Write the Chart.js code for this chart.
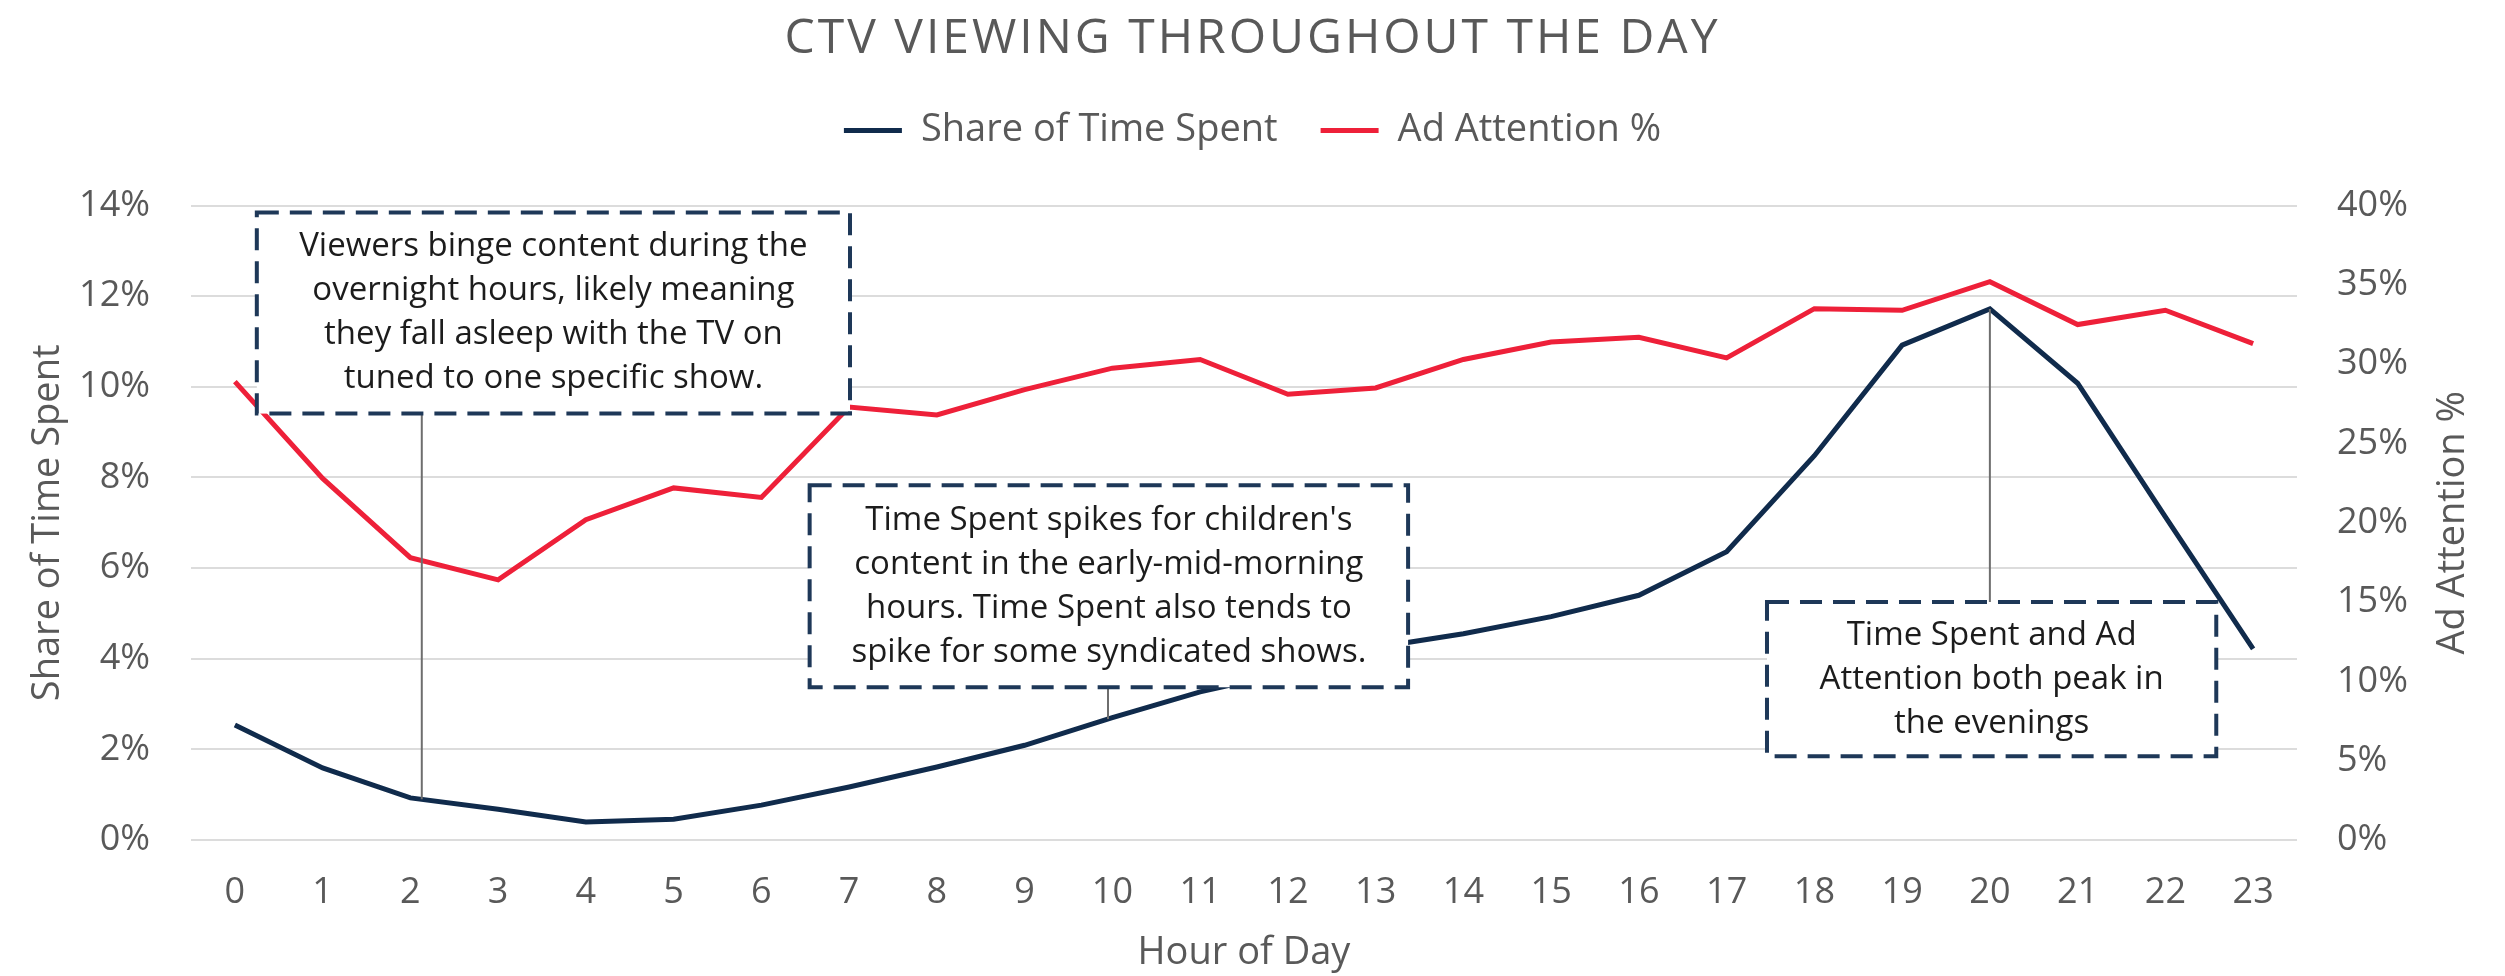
<!DOCTYPE html>
<html>
<head>
<meta charset="utf-8">
<title>CTV Viewing Throughout the Day</title>
<script src="https://cdn.jsdelivr.net/npm/chart.js@4.4.1/dist/chart.umd.min.js"></script>
<style>
  html, body { margin: 0; padding: 0; background: #fff; }
  canvas { display: block; }
</style>
</head>
<body>
<canvas id="ctvChart" width="2505" height="976"></canvas>
<script>
// data
const hours = ["0", "1", "2", "3", "4", "5", "6", "7", "8", "9", "10", "11",
               "12", "13", "14", "15", "16", "17", "18", "19", "20", "21", "22", "23"];

const shareOfTimeSpent = [2.54, 1.59, 0.93, 0.68, 0.40, 0.46, 0.77, 1.17, 1.61, 2.09, 2.70, 3.27,
                          3.70, 4.25, 4.55, 4.93, 5.40, 6.36, 8.48, 10.92, 11.72, 10.08, 7.13, 4.22];

const adAttention = [28.9, 22.8, 17.8, 16.4, 20.2, 22.2, 21.6, 27.3, 26.8, 28.4, 29.75, 30.3,
                     28.1, 28.5, 30.3, 31.4, 31.7, 30.4, 33.5, 33.4, 35.2, 32.5, 33.4, 31.3];

const FONT = "'Open Sans', 'Noto Sans', sans-serif";
const GREY = "#595959";
const NAVY = "#102b4c";
const RED = "#ee2039";

// call-out boxes, placed in axis units (hour index / left axis %)
const notes = [
  {
    lines: ["Viewers binge content during the", "overnight hours, likely meaning",
            "they fall asleep with the TV on", "tuned to one specific show."],
    from: 0.25, to: 7.01, top: 13.85, bottom: 9.41, link: 2.13, side: "below"
  },
  {
    lines: ["Time Spent spikes for children's", "content in the early-mid-morning",
            "hours. Time Spent also tends to", "spike for some syndicated shows."],
    from: 6.55, to: 13.37, top: 7.83, bottom: 3.37, link: 9.95, side: "below"
  },
  {
    lines: ["Time Spent and Ad", "Attention both peak in", "the evenings"],
    from: 17.46, to: 22.58, top: 5.25, bottom: 1.85, link: 20, side: "above"
  }
];

// keeps the gap between the legend and the plot
const legendGap = {
  id: "legendGap",
  beforeInit(chart) {
    Chart.layouts.addBox(chart, {
      position: "top",
      weight: 500,
      fullSize: true,
      options: {},
      width: 0,
      height: 0,
      isHorizontal() { return true; },
      update(maxWidth) { this.width = maxWidth; this.height = 46; },
      draw() {}
    });
  }
};

const titleSpacing = {
  id: "titleSpacing",
  beforeDraw(chart) {
    const tb = chart.titleBlock;
    if (!tb || tb._spaced) return;
    const draw = tb.draw.bind(tb);
    tb.draw = function(area) {
      chart.ctx.save();
      chart.ctx.letterSpacing = "3px";
      draw(area);
      chart.ctx.restore();
    };
    tb._spaced = true;
  }
};

const callouts = {
  id: "callouts",
  afterDatasetsDraw(chart) {
    const ctx = chart.ctx;
    const xs = chart.scales.x;
    const ys = chart.scales.y;
    const pts = chart.getDatasetMeta(0).data;

    function navyAt(px) {
      for (let i = 0; i < pts.length - 1; i++) {
        const a = pts[i], b = pts[i + 1];
        if (px >= a.x && px <= b.x) {
          return a.y + (b.y - a.y) * (px - a.x) / (b.x - a.x);
        }
      }
      return pts[pts.length - 1].y;
    }

    notes.forEach(n => {
      const x0 = xs.getPixelForValue(n.from);
      const x1 = xs.getPixelForValue(n.to);
      const y0 = ys.getPixelForValue(n.top);
      const y1 = ys.getPixelForValue(n.bottom);
      const lx = xs.getPixelForValue(n.link);
      const ly = navyAt(lx);

      ctx.save();
      ctx.strokeStyle = "#6e6e6e";
      ctx.lineWidth = 2;
      ctx.beginPath();
      if (n.side === "below") {
        ctx.moveTo(lx, y1);
        ctx.lineTo(lx, ly);
      } else {
        ctx.moveTo(lx, ly);
        ctx.lineTo(lx, y0);
      }
      ctx.stroke();

      ctx.fillStyle = "#ffffff";
      ctx.fillRect(x0, y0, x1 - x0, y1 - y0);
      ctx.setLineDash([22, 11]);
      ctx.lineWidth = 4;
      ctx.strokeStyle = "#1e3858";
      ctx.strokeRect(x0, y0, x1 - x0, y1 - y0);

      ctx.setLineDash([]);
      ctx.fillStyle = "#1c1c1c";
      ctx.font = "33px " + FONT;
      ctx.textAlign = "center";
      ctx.textBaseline = "middle";
      const cx = (x0 + x1) / 2;
      const cy = (y0 + y1) / 2;
      const lh = 44;
      n.lines.forEach((t, i) => {
        ctx.fillText(t, cx, cy + (i - (n.lines.length - 1) / 2) * lh);
      });
      ctx.restore();
    });
  },
  afterDraw(chart) {
    // right axis title reads bottom to top like the left one
    const ctx = chart.ctx;
    const area = chart.chartArea;
    ctx.save();
    ctx.translate(area.right + 156, (area.top + area.bottom) / 2);
    ctx.rotate(-Math.PI / 2);
    ctx.fillStyle = GREY;
    ctx.font = "38px " + FONT;
    ctx.textAlign = "center";
    ctx.textBaseline = "middle";
    ctx.fillText("Ad Attention %", 0, 0);
    ctx.restore();
  }
};

const ctx = document.getElementById("ctvChart");

new Chart(ctx, {
  type: "line",
  data: {
    labels: hours,
    datasets: [
      {
        label: "Share of Time Spent",
        data: shareOfTimeSpent,
        yAxisID: "y",
        borderColor: NAVY,
        backgroundColor: NAVY,
        borderWidth: 5,
        pointRadius: 0,
        tension: 0
      },
      {
        label: "Ad Attention %",
        data: adAttention,
        yAxisID: "y1",
        borderColor: RED,
        backgroundColor: RED,
        borderWidth: 5,
        pointRadius: 0,
        tension: 0
      }
    ]
  },
  options: {
    responsive: false,
    animation: false,
    devicePixelRatio: 1,
    layout: { padding: 0 },
    plugins: {
      title: {
        display: true,
        text: "CTV VIEWING THROUGHOUT THE DAY",
        color: GREY,
        font: { family: FONT, size: 48, weight: "normal", lineHeight: 1.2 },
        padding: { top: 11, bottom: 0 }
      },
      legend: {
        display: true,
        position: "top",
        labels: {
          usePointStyle: true,
          pointStyle: "line",
          pointStyleWidth: 58,
          padding: 43,
          color: GREY,
          font: { family: FONT, size: 38 }
        }
      },
      tooltip: { enabled: false }
    },
    scales: {
      x: {
        offset: true,
        grid: { display: false, drawTicks: false },
        border: { display: false },
        ticks: {
          padding: 31,
          color: GREY,
          font: { family: FONT, size: 36 },
          autoSkip: false,
          maxRotation: 0
        },
        title: {
          display: true,
          text: "Hour of Day",
          color: GREY,
          font: { family: FONT, size: 38 },
          padding: { top: 0, bottom: 0 }
        },
        afterFit(s) { s.height = 136; }
      },
      y: {
        position: "left",
        min: 0,
        max: 14,
        ticks: {
          stepSize: 2,
          callback: v => v + "%",
          padding: 41,
          color: GREY,
          font: { family: FONT, size: 36 }
        },
        grid: { color: "#dcdcdc", lineWidth: 2, drawTicks: false },
        border: { display: false },
        title: {
          display: true,
          text: "Share of Time Spent",
          color: GREY,
          font: { family: FONT, size: 38 },
          padding: { top: 25, bottom: 0 }
        },
        afterFit(s) { s.width = 191; }
      },
      y1: {
        position: "right",
        min: 0,
        max: 40,
        ticks: {
          stepSize: 5,
          callback: v => v + "%",
          padding: 40,
          color: GREY,
          font: { family: FONT, size: 36 }
        },
        grid: { drawOnChartArea: false, drawTicks: false },
        border: { display: false },
        afterFit(s) { s.width = 208; }
      }
    }
  },
  plugins: [legendGap, titleSpacing, callouts]
});
</script>
</body>
</html>
